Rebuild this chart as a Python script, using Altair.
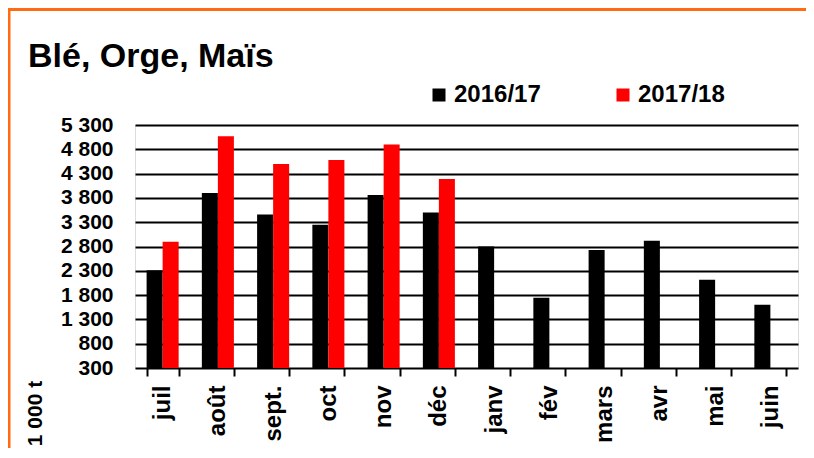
import altair as alt
import pandas as pd

mois = ["juil", "août", "sept.", "oct", "nov", "déc", "janv", "fév", "mars", "avr", "mai", "juin"]
saisons = ["2016/17", "2017/18"]
v_2016_17 = [2310, 3900, 3460, 3250, 3860, 3500, 2800, 1745, 2730, 2920, 2115, 1600]
v_2017_18 = [2900, 5070, 4500, 4580, 4900, 4190, None, None, None, None, None, None]
y_ticks = [300, 800, 1300, 1800, 2300, 2800, 3300, 3800, 4300, 4800, 5300]
titre = "Blé, Orge, Maïs"
unite = "1 000 t"

rows = []
for m, a, b in zip(mois, v_2016_17, v_2017_18):
    rows.append({"mois": m, "saison": saisons[0], "valeur": a})
    if b is not None:
        rows.append({"mois": m, "saison": saisons[1], "valeur": b})
df = pd.DataFrame(rows)

FONT = "Liberation Sans"
W, H = 663, 243

bars = alt.Chart(df).mark_bar().encode(
    x=alt.X("mois:N", sort=mois,
            scale=alt.Scale(paddingInner=0.42, paddingOuter=0.21),
            axis=alt.Axis(title=None, labelAngle=270, labelFont=FONT, labelFontSize=24,
                          labelFontWeight="bold", labelColor="black", tickBand="extent",
                          tickSize=8, tickColor="black", tickWidth=2, labelPadding=9,
                          domain=False, grid=False)),
    xOffset=alt.XOffset("saison:N", scale=alt.Scale(domain=saisons, paddingInner=0, paddingOuter=0)),
    y=alt.Y("valeur:Q", scale=alt.Scale(domain=[300, 5300], zero=False, nice=False),
            axis=alt.Axis(values=y_ticks, title=unite,
                          labelExpr="replace(format(datum.value, ','), ',', ' ')",
                          labelFont=FONT, labelFontSize=21, labelFontWeight="bold",
                          labelColor="black", labelPadding=22, ticks=False, domain=False,
                          grid=True, gridColor="black", gridWidth=2, gridOpacity=1,
                          titleAngle=270, titleX=-100, titleY=288, titleAlign="center",
                          titleBaseline="middle", titleFont=FONT, titleFontSize=21,
                          titleFontWeight="bold", titleColor="black")),
    y2=alt.datum(300),
    color=alt.Color("saison:N", scale=alt.Scale(domain=saisons, range=["#000000", "#FF0000"]),
                    legend=alt.Legend(title=None, orient="none", legendX=292, legendY=-42,
                                      direction="horizontal", symbolType="square",
                                      symbolSize=169, symbolStrokeWidth=0,
                                      labelFont=FONT, labelFontSize=24, labelFontWeight="bold",
                                      labelColor="black", columnPadding=70, labelOffset=3,
                                      padding=0)),
)

one = alt.Data(values=[{"k": 1}])

title_mark = alt.Chart(one).mark_text(
    text=titre, align="left", baseline="alphabetic", fontSize=34,
    fontWeight="bold", font=FONT, color="black"
).encode(x=alt.value(-107), y=alt.value(-58))

border_left = alt.Chart(one).mark_rule(color="#FF6A13", strokeWidth=3).encode(
    x=alt.value(-126), y=alt.value(-117), y2=alt.value(323))
border_top = alt.Chart(one).mark_rule(color="#FF6A13", strokeWidth=3).encode(
    x=alt.value(-127.5), x2=alt.value(671), y=alt.value(-115.5))

chart = alt.layer(bars, title_mark, border_left, border_top).properties(
    width=W, height=H,
    autosize=alt.AutoSizeParams(type="none"),
    padding={"left": 127, "top": 117, "right": 8, "bottom": 80},
).configure_view(stroke="black", strokeWidth=3.5).configure(background="white")

chart.save("out.html", embed_options={"renderer": "svg", "actions": False})
